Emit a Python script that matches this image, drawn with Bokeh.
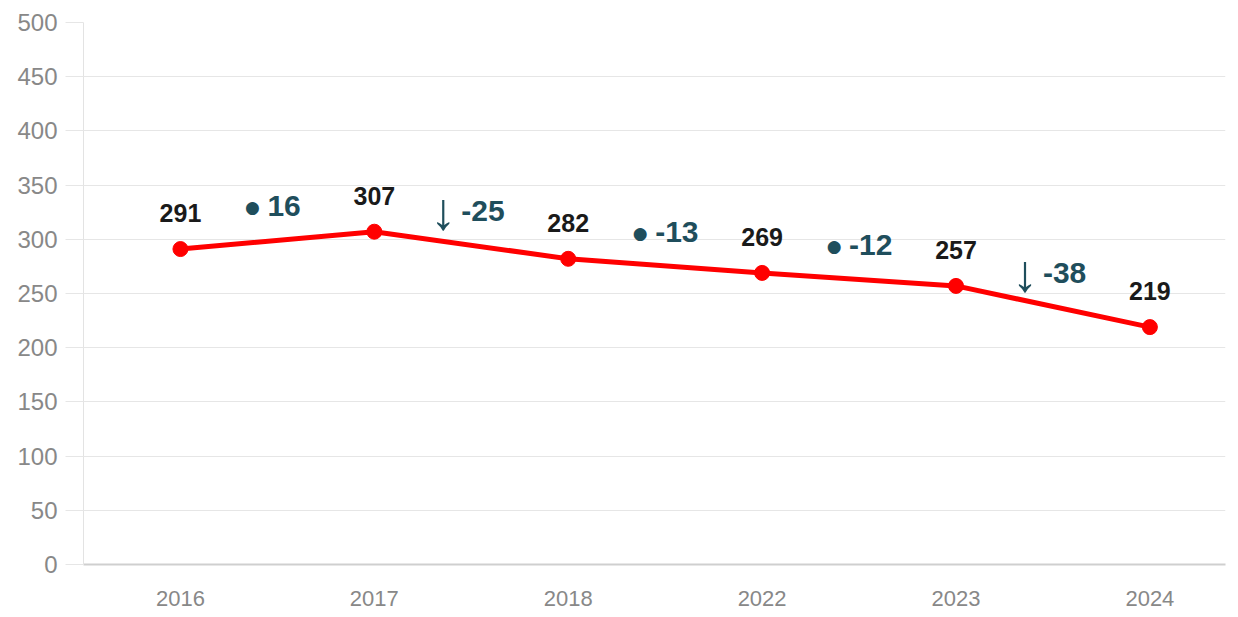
from bokeh.plotting import figure
from bokeh.models import ColumnDataSource, Range1d, FixedTicker
from bokeh.embed import file_html
from bokeh.resources import INLINE
from bokeh.core.properties import value

years = ["2016", "2017", "2018", "2022", "2023", "2024"]
values = [291, 307, 282, 269, 257, 219]
changes = [16, -25, -13, -12, -38]
change_marks = ["●", "↓", "●", "●", "↓"]
y_ticks = [0, 50, 100, 150, 200, 250, 300, 350, 400, 450, 500]

idx = list(range(len(years)))
src = ColumnDataSource(dict(x=idx, y=values, lab=[str(v) for v in values]))

mid_x = [i + 0.5 for i in range(len(changes))]
mid_y = [(values[i] + values[i + 1]) / 2 for i in range(len(changes))]
dots = [m if m == "●" else "" for m in change_marks]
arrows = [m if m == "↓" else "" for m in change_marks]
dsrc = ColumnDataSource(dict(x=mid_x, y=mid_y, num=[str(c) for c in changes],
                             dot=dots, arrow=arrows))

FONT = value("Liberation Sans")

p = figure(width=1230, height=617, output_backend="svg", toolbar_location=None,
           x_range=Range1d(-0.5, 5.39), y_range=Range1d(0, 500),
           min_border_left=83, min_border_top=22, min_border_right=5, min_border_bottom=53)
p.outline_line_color = None
p.background_fill_color = "white"

p.xgrid.grid_line_color = None
p.ygrid.grid_line_color = "#e6e6e6"
p.ygrid.grid_line_width = 1

p.yaxis.ticker = FixedTicker(ticks=y_ticks)
p.yaxis.axis_line_color = "#e3e3e3"
p.yaxis.major_tick_line_color = "#e6e6e6"
p.yaxis.major_tick_out = 18
p.yaxis.major_tick_in = 0
p.yaxis.minor_tick_line_color = None
p.yaxis.major_label_standoff = 8
p.yaxis.major_label_text_font = "Liberation Sans"
p.yaxis.major_label_text_font_size = "24px"
p.yaxis.major_label_text_color = "#888888"

p.xaxis.ticker = FixedTicker(ticks=idx)
p.xaxis.major_label_overrides = {i: y for i, y in zip(idx, years)}
p.xaxis.axis_line_color = "#cfcfcf"
p.xaxis.axis_line_width = 2
p.xaxis.major_tick_line_color = None
p.xaxis.minor_tick_line_color = None
p.xaxis.major_tick_out = 0
p.xaxis.major_label_standoff = 26
p.xaxis.major_label_text_font = "Liberation Sans"
p.xaxis.major_label_text_font_size = "22px"
p.xaxis.major_label_text_color = "#888888"

p.line("x", "y", source=src, line_color="#ff0000", line_width=5)
p.scatter("x", "y", source=src, size=15, fill_color="#ff0000", line_color="#ff0000")

p.text("x", "y", text="lab", source=src, text_font=FONT, text_font_style="bold",
       text_font_size="25px", text_color="#1a1a1a", text_align="center",
       text_baseline="alphabetic", y_offset=-36)

TEAL = "#1f4e5c"
p.text("x", "y", text="num", source=dsrc, text_font=FONT, text_font_style="bold",
       text_font_size="30px", text_color=TEAL, text_align="left",
       text_baseline="alphabetic", x_offset=-10, y_offset=-34)
p.text("x", "y", text="dot", source=dsrc, text_font=value("DejaVu Sans"),
       text_font_size="17px", text_color=TEAL, text_align="center",
       text_baseline="middle", x_offset=-25, y_offset=-33)
p.text("x", "y", text="arrow", source=dsrc, text_font=FONT,
       text_font_size="52px", text_color=TEAL, text_align="center",
       text_baseline="middle", x_offset=-28, y_offset=-34)

open("out.html", "w").write(file_html(p, INLINE))
